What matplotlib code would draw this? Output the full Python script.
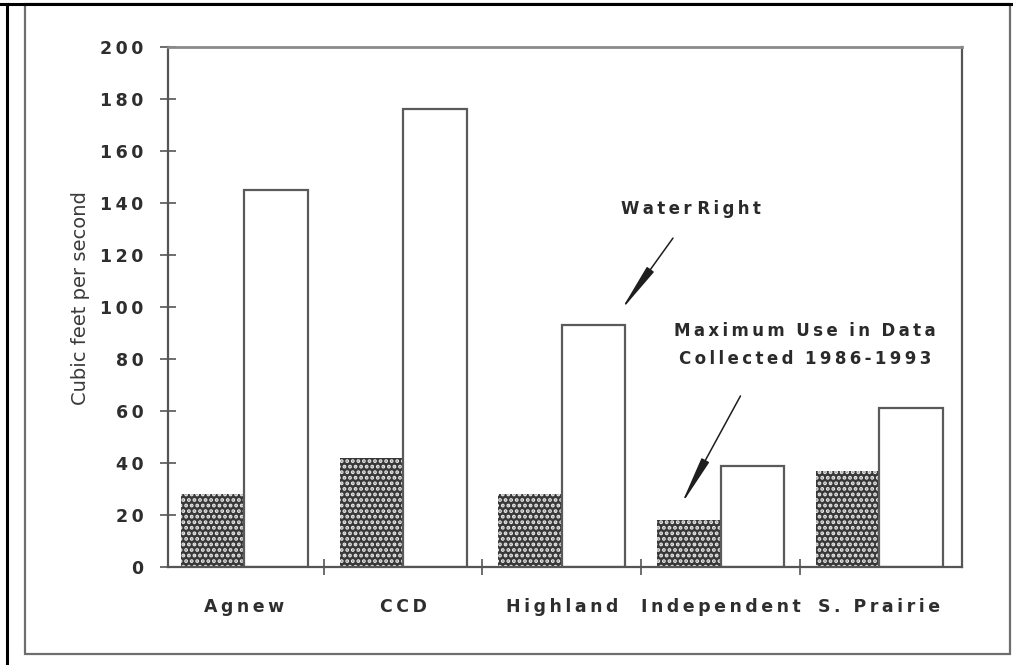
import matplotlib
matplotlib.use("Agg")
import matplotlib.pyplot as plt
from matplotlib.lines import Line2D
from matplotlib.patches import Rectangle
import numpy as np

# Data: maximum observed use vs. water right, cubic feet per second
plants = ["Agnew", "CCD", "Highland", "Independent", "S. Prairie"]
max_use = [28, 42, 28, 18, 37]
water_right = [145, 176, 93, 39, 61]
y_ticks = [0, 20, 40, 60, 80, 100, 120, 140, 160, 180, 200]

THIN = "\u2009"


def spaced(s):
    """Letter-spaced label text."""
    return THIN.join(s)


plt.rcParams["hatch.linewidth"] = 1.9
plt.rcParams["font.family"] = ["DejaVu Sans"]

W, H = 1013, 665
fig = plt.figure(figsize=(W / 100, H / 100), dpi=100)
fig.patch.set_facecolor("white")

ax_left, ax_right = 168 / W, 962 / W
ax_bottom, ax_top = 1 - 567 / H, 1 - 47 / H
ax = fig.add_axes([ax_left, ax_bottom, ax_right - ax_left, ax_top - ax_bottom])

x = np.arange(len(plants))
bw = 0.4
ax.bar(x - bw / 2, max_use, width=bw, facecolor="#383838", edgecolor="#e8e8e8",
       hatch="...", linewidth=0, zorder=2)
ax.bar(x + bw / 2, water_right, width=bw, facecolor="white", edgecolor="#5a5a5a",
       linewidth=1.6, zorder=2)

ax.set_xlim(-0.48, 4.52)
ax.set_ylim(0, 200)

ax.set_yticks(y_ticks)
ax.set_yticklabels([spaced(str(v)) for v in y_ticks], fontweight="bold",
                   fontsize=12.5, color="#2e2e2e")
ax.tick_params(axis="y", direction="inout", length=11, width=1.2, color="#555555", pad=12)

ax.set_xticks(x)
ax.set_xticks([0.5, 1.5, 2.5, 3.5], minor=True)
ax.set_xticklabels([spaced(p) for p in plants], fontweight="bold", fontsize=12.5,
                   color="#2e2e2e")
ax.tick_params(axis="x", which="major", length=0, pad=22)
ax.tick_params(axis="x", which="minor", direction="inout", length=11, width=1.2,
               color="#555555")

for side in ["left", "bottom", "right"]:
    ax.spines[side].set_color("#555555")
    ax.spines[side].set_linewidth(1.6)
ax.spines["top"].set_color("#8a8a8a")
ax.spines["top"].set_linewidth(2.0)

fig.text(80 / W, 1 - 298 / H, "Cubic feet per second", rotation=90,
         ha="center", va="center", fontsize=14, color="#3a3a3a")

# Callouts
arrow_kw = dict(arrowstyle="-|>,head_length=3.0,head_width=0.26", color="#1e1e1e",
                lw=1.1, mutation_scale=10, shrinkA=0, shrinkB=0)
ax.annotate("", xy=(2.37, 98.5), xytext=(2.70, 126.5), arrowprops=arrow_kw)
ax.text(2.81, 137.7, " ".join(spaced(w) for w in "Water Right".split()),
        ha="center", va="center", fontsize=12, fontweight="bold", color="#2a2a2a")

ax.annotate("", xy=(2.75, 23.8), xytext=(3.125, 65.8), arrowprops=arrow_kw)
ax.text(3.53, 90.8, "  ".join(spaced(w) for w in "Maximum Use in Data".split()),
        ha="center", va="center", fontsize=12, fontweight="bold", color="#2a2a2a")
ax.text(3.53, 80.0, "  ".join(spaced(w) for w in "Collected 1986-1993".split()),
        ha="center", va="center", fontsize=12, fontweight="bold", color="#2a2a2a")

# Page border lines
fig.add_artist(Line2D([0, 1], [1 - 4 / H, 1 - 4 / H], transform=fig.transFigure,
                      color="black", lw=2.2))
fig.add_artist(Line2D([7 / W, 7 / W], [0, 1 - 4 / H], transform=fig.transFigure,
                      color="black", lw=2.2))
fig.add_artist(Rectangle((25 / W, 1 - 654 / H), (1010 - 25) / W, (654 - 4) / H,
                         transform=fig.transFigure, fill=False,
                         edgecolor="#6e6e6e", lw=1.6))

fig.savefig("out.png", dpi=100, facecolor="white")
